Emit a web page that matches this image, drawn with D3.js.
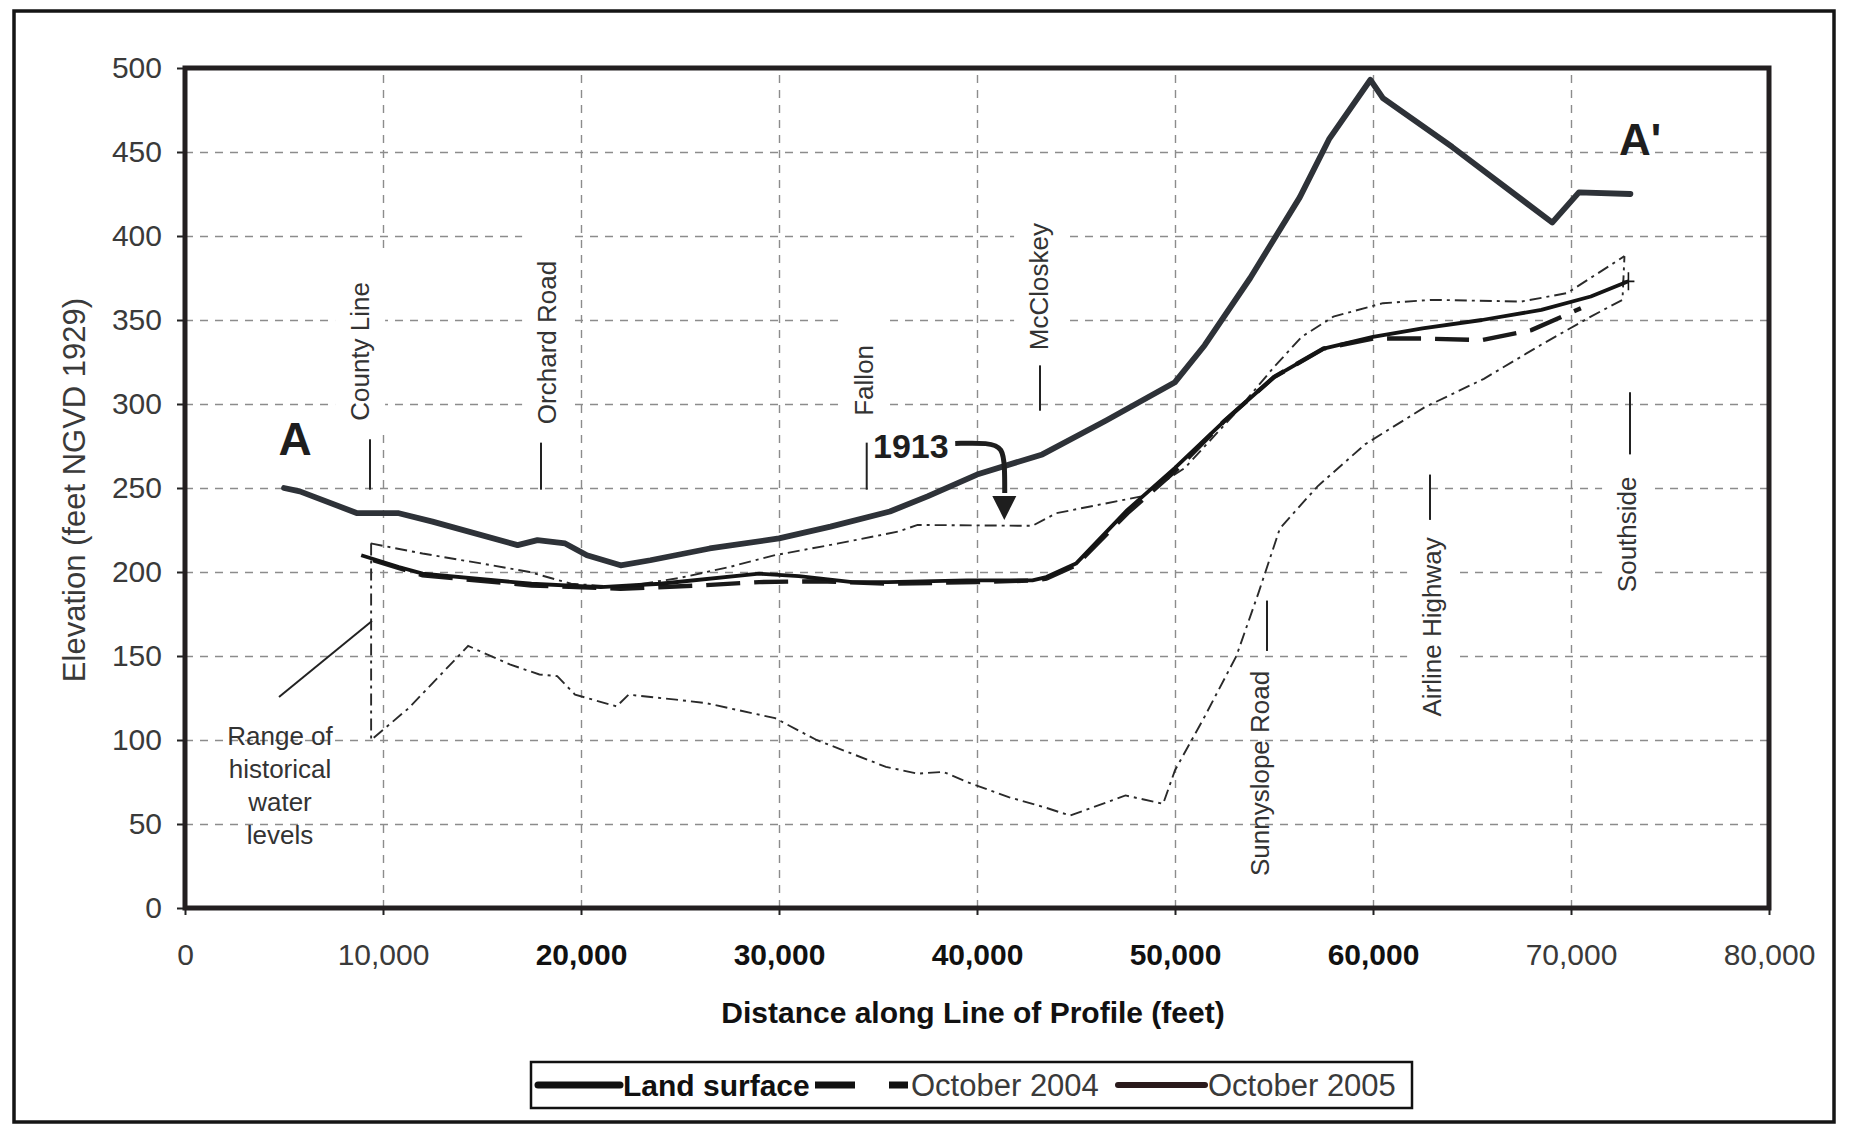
<!DOCTYPE html>
<html>
<head>
<meta charset="utf-8">
<script src="https://cdn.jsdelivr.net/npm/d3@7"></script>
<style>
  body { margin: 0; background: #fff; }
  svg { display: block; font-family: "Liberation Sans", Arial, sans-serif; }
</style>
</head>
<body>
<svg id="chart" width="1862" height="1130"></svg>
<script>
// distance along profile (feet) / elevation (feet NGVD 1929)
const landX = [5000, 5800, 8700, 10800, 12500, 16800, 17800, 19200, 20300, 22000, 23500, 26500, 30000, 32600, 35600, 37500, 40000, 43300, 46500, 50000, 51500, 53800, 56300, 57800, 59870, 60500, 64000, 69050, 70400, 73000];
const landY = [250, 248, 235, 235, 230, 216, 219, 217, 210, 204, 207, 214, 220, 227, 236, 245, 258, 270, 290, 313, 335, 375, 423, 458, 493, 482, 453, 408, 426, 425];

const oct2005X = [8900, 10800, 12000, 17500, 21000, 24000, 29000, 31000, 33700, 35500, 39500, 42800, 43500, 45000, 47600, 50000, 52500, 55000, 57500, 60000, 62500, 65500, 68500, 71000, 72900];
const oct2005Y = [210, 203, 199, 193, 191, 193, 199, 197.5, 194, 194, 195, 195, 197, 205, 237, 262, 290, 316, 333, 340, 345, 350, 356, 364, 373];

const oct2004X = [9500, 12000, 17500, 22000, 26000, 29000, 32000, 35500, 40000, 43000, 43500, 45000, 47600, 50000, 52500, 55000, 57500, 60000, 62500, 65500, 68000, 70500];
const oct2004Y = [207, 198, 192, 190, 192, 194, 194.5, 193, 194, 195, 196, 204, 235, 260, 290, 316, 333, 339, 339, 338, 344, 357];

// range of historical water levels (1913 high, historical low)
const highX = [9380, 12000, 15000, 17400, 19500, 22000, 25000, 27500, 29800, 33000, 36000, 37000, 42800, 44000, 48300, 50500, 53000, 55000, 56400, 58000, 60500, 63000, 67500, 69800, 72700];
const highY = [217, 211, 205, 200, 193, 191, 196.5, 203, 210, 217, 224, 228, 227.5, 235, 245, 262, 294, 322, 340, 352, 360, 362, 361, 366, 388];

const lowX = [9400, 9400, 11300, 14300, 16400, 17900, 18800, 19700, 21800, 22400, 24800, 26300, 29800, 31900, 35400, 37000, 38300, 39500, 41600, 43400, 44700, 47500, 49400, 50000, 51500, 53100, 54200, 55300, 57200, 59600, 62600, 65600, 68600, 71000, 72600, 72700];
const lowY = [217, 100, 119, 156, 145, 139, 138, 127, 120, 127, 124, 122, 113, 100, 84, 80, 81, 75, 66, 60, 55, 67, 62, 82, 114, 150, 187, 226, 251, 276, 298, 315, 336, 352, 362, 388];

// road crossings
const roadNames = ["County Line", "Orchard Road", "Fallon", "McCloskey", "Sunnyslope Road", "Airline Highway", "Southside"];
const roadTextX = [8838, 18283, 34293, 43131, 54293, 62980, 72828];
const roadTextY = [290, 288, 293, 332, 19, 114, 188];
const roadTickX = [9343, 17980, 34430, 43182, 54646, 62880, 72980];
const roadTickLo = [249, 249, 249, 296, 153, 231, 270];
const roadTickHi = [279, 277, 277, 323, 183, 258, 307];

const xTicks = [0, 10000, 20000, 30000, 40000, 50000, 60000, 70000, 80000];
const yTicks = [0, 50, 100, 150, 200, 250, 300, 350, 400, 450, 500];

const seriesNames = ["Land surface", "October 2004", "October 2005"];

// 1913 arrow and labels
const arrowX = [38900, 40600, 41300, 41400, 41400];
const arrowY = [276.5, 277, 274, 262, 247];
const arrowTip = [41380, 231];
const rangeNoteX = [4747, 9444];
const rangeNoteY = [125.6, 170.8];

const svg = d3.select("#chart");

const x = d3.scaleLinear().domain([0, 80000]).range([185, 1769]);
const y = d3.scaleLinear().domain([0, 500]).range([908, 68]);

// outer border of the figure
svg.append("rect")
    .attr("x", 14).attr("y", 11)
    .attr("width", 1820).attr("height", 1111)
    .attr("fill", "#fff")
    .attr("stroke", "#151515")
    .attr("stroke-width", 3.5);

// grid
let gx = svg.append("g")
    .attr("transform", "translate(0," + y(0) + ")")
    .call(d3.axisBottom(x).tickValues(xTicks.slice(1, -1)).tickSize(-(y(0) - y(500))).tickFormat(""));
let gy = svg.append("g")
    .attr("transform", "translate(" + x(0) + ",0)")
    .call(d3.axisLeft(y).tickValues(yTicks.slice(1, -1)).tickSize(-(x(80000) - x(0))).tickFormat(""));
[gx, gy].forEach(function(g){
    g.select(".domain").remove();
    g.selectAll("line")
        .attr("stroke", "#8c8c8c")
        .attr("stroke-width", 1.4)
        .attr("stroke-dasharray", "8,7");
});

// road labels (text boxes with white fill)
roadNames.forEach(function(name, i){
    let g = svg.append("g")
        .attr("transform", "translate(" + x(roadTextX[i]) + "," + y(roadTextY[i]) + ") rotate(-90)");
    let t = g.append("text")
        .attr("dy", "0.35em")
        .attr("font-size", 26)
        .attr("fill", "#333")
        .text(name);
    if (name !== "Sunnyslope Road") {
        let b = t.node().getBBox();
        g.insert("rect", "text")
            .attr("x", b.x - 8)
            .attr("y", b.y - 10)
            .attr("width", b.width + 36)
            .attr("height", b.height + 20)
            .attr("fill", "#fff");
    }
    svg.append("line")
        .attr("x1", x(roadTickX[i])).attr("x2", x(roadTickX[i]))
        .attr("y1", y(roadTickLo[i])).attr("y2", y(roadTickHi[i]))
        .attr("stroke", "#222")
        .attr("stroke-width", 2);
});

const line = d3.line().x(d => x(d[0])).y(d => y(d[1]));

// historical range
svg.append("path")
    .datum(d3.zip(highX, highY))
    .attr("d", line)
    .attr("fill", "none")
    .attr("stroke", "#2a2a2a")
    .attr("stroke-width", 1.9)
    .attr("stroke-dasharray", "12,5,3,5");
svg.append("path")
    .datum(d3.zip(lowX, lowY))
    .attr("d", line)
    .attr("fill", "none")
    .attr("stroke", "#2a2a2a")
    .attr("stroke-width", 1.9)
    .attr("stroke-dasharray", "12,5,3,5");

// water levels
svg.append("path")
    .datum(d3.zip(oct2004X, oct2004Y))
    .attr("d", line)
    .attr("fill", "none")
    .attr("stroke", "#1a1a1a")
    .attr("stroke-width", 4.4)
    .attr("stroke-dasharray", "34,14");
svg.append("path")
    .datum(d3.zip(oct2005X, oct2005Y))
    .attr("d", line)
    .attr("fill", "none")
    .attr("stroke", "#141414")
    .attr("stroke-width", 3.8)
    .attr("stroke-linejoin", "round");

// end marker of October 2005
let endPt = [oct2005X[oct2005X.length - 1], oct2005Y[oct2005Y.length - 1]];
svg.append("path")
    .attr("d", "M" + (x(endPt[0]) - 6) + "," + y(endPt[1]) + "h12M" + x(endPt[0]) + "," + (y(endPt[1]) - 9) + "v18")
    .attr("stroke", "#141414")
    .attr("stroke-width", 1.6);

// land surface
svg.append("path")
    .datum(d3.zip(landX, landY))
    .attr("d", line)
    .attr("fill", "none")
    .attr("stroke", "#2e3238")
    .attr("stroke-width", 5.8)
    .attr("stroke-linejoin", "round")
    .attr("stroke-linecap", "round");

// 1913 annotation
svg.append("text")
    .attr("x", x(34747)).attr("y", y(267.9))
    .attr("font-size", 34).attr("font-weight", "bold")
    .attr("fill", "#1e1e1e")
    .text("1913");
svg.append("path")
    .datum(d3.zip(arrowX, arrowY))
    .attr("d", d3.line().x(d => x(d[0])).y(d => y(d[1])).curve(d3.curveBasis))
    .attr("fill", "none")
    .attr("stroke", "#1e1e1e")
    .attr("stroke-width", 5);
let tipX = x(arrowTip[0]), tipY = y(arrowTip[1]);
svg.append("path")
    .attr("d", "M" + tipX + "," + tipY + "L" + (tipX - 12) + "," + (tipY - 24) + "L" + (tipX + 12) + "," + (tipY - 24) + "Z")
    .attr("fill", "#1e1e1e");

// A and A'
svg.append("text")
    .attr("x", x(5556)).attr("y", y(269.6))
    .attr("text-anchor", "middle")
    .attr("font-size", 46).attr("font-weight", "bold")
    .attr("fill", "#1e1e1e")
    .text("A");
svg.append("text")
    .attr("x", x(73485)).attr("y", y(448))
    .attr("text-anchor", "middle")
    .attr("font-size", 44).attr("font-weight", "bold")
    .attr("fill", "#1e1e1e")
    .text("A'");

// range note
svg.append("line")
    .attr("x1", x(rangeNoteX[0])).attr("y1", y(rangeNoteY[0]))
    .attr("x2", x(rangeNoteX[1])).attr("y2", y(rangeNoteY[1]))
    .attr("stroke", "#222")
    .attr("stroke-width", 2);
let note = svg.append("text")
    .attr("x", x(4798)).attr("y", y(97))
    .attr("text-anchor", "middle")
    .attr("font-size", 26)
    .attr("fill", "#333");
["Range of", "historical", "water", "levels"].forEach(function(s, i){
    note.append("tspan")
        .attr("x", x(4798))
        .attr("dy", i === 0 ? 0 : 33)
        .text(s);
});

// axes
let ax = svg.append("g")
    .attr("transform", "translate(0," + y(0) + ")")
    .call(d3.axisBottom(x).tickValues(xTicks).tickSize(7).tickPadding(29).tickFormat(d3.format(",")));
ax.select(".domain").remove();
ax.selectAll("line").attr("stroke", "#222").attr("stroke-width", 2);
ax.selectAll("text")
    .attr("font-size", 30)
    .attr("font-family", "Liberation Sans, Arial, sans-serif")
    .attr("font-weight", d => (d >= 20000 && d <= 60000) ? "bold" : "normal")
    .attr("fill", d => (d >= 20000 && d <= 60000) ? "#111" : "#3a3a3a");

let ay = svg.append("g")
    .attr("transform", "translate(" + x(0) + ",0)")
    .call(d3.axisLeft(y).tickValues(yTicks).tickSize(8).tickPadding(15));
ay.select(".domain").remove();
ay.selectAll("line").attr("stroke", "#222").attr("stroke-width", 2);
ay.selectAll("text")
    .attr("font-size", 30)
    .attr("font-family", "Liberation Sans, Arial, sans-serif")
    .attr("fill", "#3a3a3a");

// plot frame
svg.append("rect")
    .attr("x", x(0)).attr("y", y(500))
    .attr("width", x(80000) - x(0)).attr("height", y(0) - y(500))
    .attr("fill", "none")
    .attr("stroke", "#231f20")
    .attr("stroke-width", 5);

// axis titles
svg.append("text")
    .attr("x", 973).attr("y", 1023)
    .attr("text-anchor", "middle")
    .attr("font-size", 30).attr("font-weight", "bold")
    .attr("fill", "#111")
    .text("Distance along Line of Profile (feet)");
svg.append("text")
    .attr("transform", "translate(85,490) rotate(-90)")
    .attr("text-anchor", "middle")
    .attr("font-size", 31)
    .attr("fill", "#3a3a3a")
    .text("Elevation (feet NGVD 1929)");

// legend
let lg = svg.append("g");
lg.append("rect")
    .attr("x", 531).attr("y", 1062)
    .attr("width", 881).attr("height", 46)
    .attr("fill", "#fff")
    .attr("stroke", "#111")
    .attr("stroke-width", 2.5);
const legX = [538, 815, 1118];
const legW = [82, 93, 87];
const legStroke = [
    {w: 7, dash: null, c: "#111"},
    {w: 7, dash: "40,34", c: "#111"},
    {w: 6, dash: null, c: "#2a1a1c"}
];
seriesNames.forEach(function(name, i){
    lg.append("line")
        .attr("x1", legX[i]).attr("x2", legX[i] + legW[i])
        .attr("y1", 1085).attr("y2", 1085)
        .attr("stroke", legStroke[i].c)
        .attr("stroke-width", legStroke[i].w)
        .attr("stroke-linecap", i === 1 ? "butt" : "round")
        .attr("stroke-dasharray", legStroke[i].dash);
    lg.append("text")
        .attr("x", legX[i] + legW[i] + 3).attr("y", 1096)
        .attr("font-size", i === 0 ? 30 : 31)
        .attr("font-weight", i === 0 ? "bold" : "normal")
        .attr("fill", i === 0 ? "#111" : "#3a3a3a")
        .text(name);
});
</script>
</body>
</html>
